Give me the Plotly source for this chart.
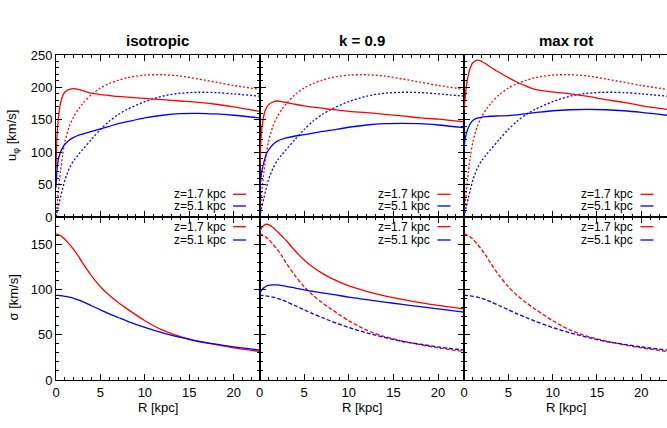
import plotly.graph_objects as go

W, H = 667, 428

# ---------------- data ----------------
R = [0, 0.1, 0.25, 0.5, 0.75, 1, 1.5, 2, 2.5, 3, 4, 5, 6, 7, 8, 10, 12, 14, 16, 18, 20, 22.9]

# circular velocity (dotted, same in all three top panels)
vc_z17 = [0, 15, 38, 70, 96, 116, 140, 155, 166, 175, 189, 199, 206, 211, 215, 219, 219.5, 217.5, 213, 208, 203, 197]
vc_z51 = [0, 6, 15, 30, 44, 57, 75, 87, 96, 104, 120, 135, 148, 158, 166, 178, 186.5, 191, 192.5, 192, 190, 186.5]

# mean rotation u_phi (solid)
u_iso_z17 = [75, 120, 150, 175, 187, 193, 197, 198, 197, 195, 191, 189, 187.5, 186, 185, 183, 181, 179, 177, 174, 170, 163]
u_iso_z51 = [45, 70, 88, 100, 107, 112, 119, 123, 126, 128, 132, 136, 140, 144, 147, 153, 157, 159.5, 160, 159, 157, 153]
u_k09_z17 = [60, 100, 135, 158, 168, 173, 177.5, 179, 178, 176.5, 174, 171.5, 169.5, 168, 166, 163, 161, 158.5, 156, 153, 151, 147]
u_k09_z51 = [30, 50, 70, 85, 97, 103, 112, 117, 120, 122, 125, 127, 129.5, 132, 134, 138.5, 142, 144, 144.5, 144, 142, 138]
u_max_z17 = [165, 180, 200, 220, 232, 238, 242, 240, 236, 231, 223, 215, 208, 202, 197, 193, 190, 186, 181, 177, 172, 166]
u_max_z51 = [105, 118, 128, 138, 145, 149, 152.5, 154, 155, 155.5, 156, 156.5, 157.5, 159.5, 161, 164, 165.5, 166, 165.5, 164, 161.5, 157]

# velocity dispersion sigma
s_iso_z17 = [161, 161, 160.5, 159.5, 157.5, 155.5, 150, 144, 137, 129, 115, 103, 93.5, 85.5, 78.5, 65.5, 55, 48, 43, 39, 35.5, 31.5]
s_iso_z51 = [93.5, 93.5, 93.4, 93.1, 92.8, 92.4, 91.5, 90.2, 88.5, 86.5, 82, 77.5, 73, 69, 65, 58, 52, 47, 42.5, 39.5, 36.5, 33]
s_k09_z17 = [163, 165.5, 168, 171, 172, 171.5, 168.5, 164, 159, 154, 142.5, 132.5, 124.5, 118, 112.5, 104, 98, 93, 89, 85.5, 82.5, 78.5]
s_k09_z51 = [95, 97, 99.5, 102, 103.5, 104.5, 105, 105, 104.3, 103.5, 101.5, 99.5, 97.8, 96.2, 94.8, 91.5, 88.8, 86, 83.5, 81, 78.5, 75]

titles = ["isotropic", "k = 0.9", "max rot"]
legend_labels = ["z=1.7 kpc", "z=5.1 kpc"]
x_ticks = [0, 5, 10, 15, 20]

RED = "#ff0000"
BLUE = "#0000ff"
FONT = "Liberation Sans, Arial, sans-serif"

# ---------------- layout geometry (pixels) ----------------
cols_px = [(56, 259.5), (259.5, 464), (464, 667)]
rows_px = [(55, 217), (217, 380)]  # top, bottom (y from top)
XMAX = 22.9
yranges = [[0, 250], [0, 180]]

def px2x(px):
    return px / W

def py2y(py):
    return 1 - py / H

fig = go.Figure()

DOT = "2px,2px"
DASH = "4px,2px"
panels = {
    (0, 0): [(vc_z17, RED, DOT), (vc_z51, BLUE, DOT), (u_iso_z17, RED, "solid"), (u_iso_z51, BLUE, "solid")],
    (0, 1): [(vc_z17, RED, DOT), (vc_z51, BLUE, DOT), (u_k09_z17, RED, "solid"), (u_k09_z51, BLUE, "solid")],
    (0, 2): [(vc_z17, RED, DOT), (vc_z51, BLUE, DOT), (u_max_z17, RED, "solid"), (u_max_z51, BLUE, "solid")],
    (1, 0): [(s_iso_z17, RED, "solid"), (s_iso_z51, BLUE, "solid")],
    (1, 1): [(s_iso_z17, RED, DASH), (s_iso_z51, BLUE, DASH), (s_k09_z17, RED, "solid"), (s_k09_z51, BLUE, "solid")],
    (1, 2): [(s_iso_z17, RED, DASH), (s_iso_z51, BLUE, DASH)],
}

layout_axes = {}
annotations = []
shapes = []

for r in range(2):
    for c in range(3):
        idx = r * 3 + c + 1
        xa = "x" if idx == 1 else f"x{idx}"
        ya = "y" if idx == 1 else f"y{idx}"
        for (yv, col, dash) in panels[(r, c)]:
            fig.add_trace(go.Scatter(
                x=R, y=yv, mode="lines", xaxis=xa, yaxis=ya,
                line=dict(color=col, width=1.3, dash=dash, shape="spline", smoothing=0.8),
                showlegend=False, hoverinfo="skip",
            ))
        x0, x1 = cols_px[c]
        yt, yb = rows_px[r]
        xkey = "xaxis" if idx == 1 else f"xaxis{idx}"
        ykey = "yaxis" if idx == 1 else f"yaxis{idx}"
        layout_axes[xkey] = dict(
            domain=[px2x(x0), px2x(x1)], anchor=ya, range=[0, XMAX],
            tickvals=x_ticks, ticks="inside", ticklen=6, tickwidth=1, tickcolor="black",
            minor=dict(dtick=1, tick0=0, ticks="inside", ticklen=3, tickwidth=1, tickcolor="black"),
            showline=True, linecolor="black", linewidth=1, mirror="allticks",
            showgrid=False, zeroline=False, showticklabels=(r == 1),
            tickfont=dict(family=FONT, size=13, color="black"),
            automargin=False, fixedrange=True,
        )
        layout_axes[ykey] = dict(
            domain=[py2y(yb), py2y(yt)], anchor=xa, range=yranges[r],
            dtick=50, tick0=0, ticks="inside", ticklen=6, tickwidth=1, tickcolor="black",
            minor=dict(dtick=10, tick0=0, ticks="inside", ticklen=3, tickwidth=1, tickcolor="black"),
            showline=True, linecolor="black", linewidth=1,
            mirror=("allticks" if c < 2 else False),
            showgrid=False, zeroline=False, showticklabels=(c == 0),
            tickfont=dict(family=FONT, size=13, color="black"),
            automargin=False, fixedrange=True,
        )
        if r == 0:
            ly = [yb - 22.7, yb - 11]
        else:
            ly = [yt + 9.7, yt + 23]
        for k, (lab, col) in enumerate(zip(legend_labels, [RED, BLUE])):
            annotations.append(dict(
                x=px2x(x1 - 33), y=py2y(ly[k]), xref="paper", yref="paper",
                text=lab, showarrow=False, xanchor="right", yanchor="middle",
                font=dict(family=FONT, size=12, color="black"),
                borderpad=0,
            ))
            shapes.append(dict(
                type="line", xref="paper", yref="paper",
                x0=px2x(x1 - 26.5), x1=px2x(x1 - 13.5), y0=py2y(ly[k]), y1=py2y(ly[k]),
                line=dict(color=col, width=1.3),
            ))

for c, t in enumerate(titles):
    x0, x1 = cols_px[c]
    annotations.append(dict(
        x=px2x((x0 + x1) / 2), y=py2y(40), xref="paper", yref="paper",
        text=f"<b>{t}</b>", showarrow=False, xanchor="center", yanchor="middle",
        font=dict(family=FONT, size=15, color="black"),
    ))
    annotations.append(dict(
        x=px2x((x0 + x1) / 2), y=py2y(407), xref="paper", yref="paper",
        text="R [kpc]", showarrow=False, xanchor="center", yanchor="middle",
        font=dict(family=FONT, size=13, color="black"),
    ))

annotations.append(dict(
    x=px2x(12), y=py2y(135), xref="paper", yref="paper",
    text="u<sub>φ</sub> [km/s]", showarrow=False, textangle=-90,
    xanchor="center", yanchor="middle",
    font=dict(family=FONT, size=13, color="black"),
))
annotations.append(dict(
    x=px2x(12.5), y=py2y(298), xref="paper", yref="paper",
    text="σ [km/s]", showarrow=False, textangle=-90,
    xanchor="center", yanchor="middle",
    font=dict(family=FONT, size=13, color="black"),
))

fig.update_layout(
    width=W, height=H,
    margin=dict(l=0, r=0, t=0, b=0),
    paper_bgcolor="white", plot_bgcolor="white",
    annotations=annotations, shapes=shapes,
    showlegend=False,
    **layout_axes,
)

fig.write_html(
    "out.html",
    config={"displayModeBar": False},
    post_script="document.body.style.margin='0px';document.body.style.padding='0px';",
)
